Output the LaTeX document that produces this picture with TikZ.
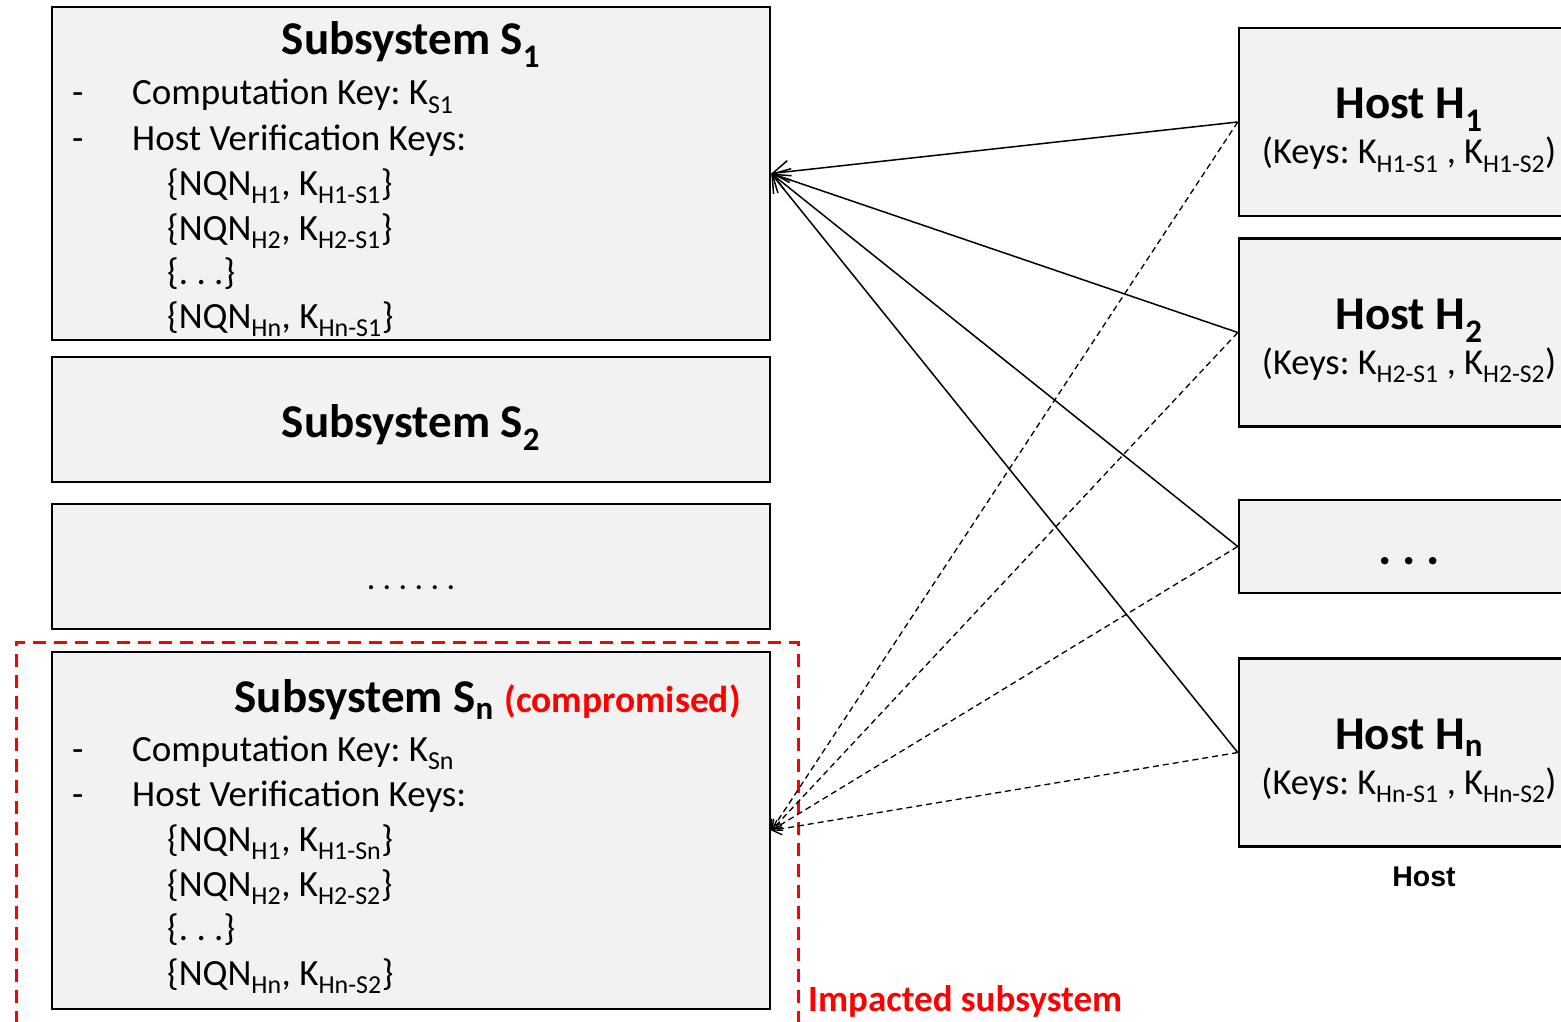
\documentclass[tikz,border=0pt]{standalone}
\usepackage{fontspec}
\setmainfont{Carlito}
\newfontfamily\hostlabelfont{Liberation Sans}
\usetikzlibrary{arrows.meta}
\definecolor{boxfill}{HTML}{F2F2F2}
\definecolor{alertred}{HTML}{FF0000}
\frenchspacing

\begin{document}
\begin{tikzpicture}[x=1pt, y=-1pt,
    subsys/.style={draw, fill=boxfill, line width=2.5pt, minimum width=718pt, inner sep=0pt},
    hostbox/.style={draw, fill=boxfill, line width=2.5pt, minimum width=340pt, minimum height=188pt, inner sep=0pt},
    heading/.style={anchor=base, inner sep=0pt, font=\fontsize{47}{52}\selectfont\bfseries},
    entry/.style={anchor=base west, inner sep=0pt, font=\fontsize{37}{42}\selectfont},
    keyline/.style={anchor=base, inner sep=0pt, font=\fontsize{36.5}{42}\selectfont},
    verify/.style={line width=1.5pt, -{Straight Barb[length=16pt,width=22pt,line width=1.5pt]}},
    leak/.style={line width=1.3pt, dash pattern=on 6pt off 4pt, -{Straight Barb[length=9pt,width=12pt]}}]

    \useasboundingbox (0,0) rectangle (1561,1022);
    \clip (0,0) rectangle (1561,1022);

    % --- SUBSYSTEMS ---
    % (1) Subsystem S1
    \node[subsys, minimum height=333pt] (s1) at (411,173.5) {};
    \node[heading] (s1title) at (411,55) {Subsystem S\textsubscript{1}};
    \node[entry] (s1dash1) at (72,105) {-};
    \node[entry] (s1comp) at (132,105) {Computation Key: K\textsubscript{S1}};
    \node[entry] (s1dash2) at (72,150) {-};
    \node[entry] (s1host) at (132,150) {Host Verification Keys:};
    \node[entry] (s1k1) at (167,195) {\{NQN\textsubscript{H1}, K\textsubscript{H1-S1}\}};
    \node[entry] (s1k2) at (167,240) {\{NQN\textsubscript{H2}, K\textsubscript{H2-S1}\}};
    \node[entry] (s1k3) at (167,284) {\{. . .\}};
    \node[entry] (s1kn) at (167,328) {\{NQN\textsubscript{Hn}, K\textsubscript{Hn-S1}\}};

    % (2) Subsystem S2
    \node[subsys, minimum height=125pt] (s2) at (411,419.5) {};
    \node[heading] (s2title) at (411,437) {Subsystem S\textsubscript{2}};

    % (3) more subsystems
    \node[subsys, minimum height=125pt] (smore) at (411,566.5) {};
    \node[anchor=base, inner sep=0pt, font=\fontsize{34}{38}\selectfont] (smoredots) at (411,589) {.\kern7.4pt.\kern7.4pt.\kern7.4pt.\kern7.4pt.\kern7.4pt.};

    % (4) Subsystem Sn, compromised
    \node[draw=alertred, line width=3pt, dash pattern=on 13pt off 8pt, minimum width=782pt, minimum height=398pt] (impact) at (407,841) {};
    \node[subsys, minimum height=357pt] (sn) at (411,830.5) {};
    \node[heading, anchor=base east] (sntitle) at (741,712) {Subsystem S\textsubscript{n} {\fontsize{37.5}{42}\selectfont\color{alertred}(compromised)}};
    \node[entry] (sndash1) at (72,761) {-};
    \node[entry] (sncomp) at (132,761) {Computation Key: K\textsubscript{Sn}};
    \node[entry] (sndash2) at (72,806) {-};
    \node[entry] (snhost) at (132,806) {Host Verification Keys:};
    \node[entry] (snk1) at (167,851) {\{NQN\textsubscript{H1}, K\textsubscript{H1-Sn}\}};
    \node[entry] (snk2) at (167,896) {\{NQN\textsubscript{H2}, K\textsubscript{H2-S2}\}};
    \node[entry] (snk3) at (167,940) {\{. . .\}};
    \node[entry] (snkn) at (167,985) {\{NQN\textsubscript{Hn}, K\textsubscript{Hn-S2}\}};
    \node[anchor=base west, inner sep=0pt, text=alertred, font=\fontsize{37}{42}\selectfont\bfseries] (impactlabel) at (808,1011) {Impacted subsystem};

    % --- HOSTS ---
    \node[hostbox] (h1) at (1409,122) {};
    \node[heading] (h1title) at (1409,119) {Host H\textsubscript{1}};
    \node[keyline] (h1keys) at (1409,164) {(Keys: K\textsubscript{H1-S1} , K\textsubscript{H1-S2})};

    \node[hostbox] (h2) at (1409,332.5) {};
    \node[heading] (h2title) at (1409,329) {Host H\textsubscript{2}};
    \node[keyline] (h2keys) at (1409,374) {(Keys: K\textsubscript{H2-S1} , K\textsubscript{H2-S2})};

    \node[hostbox, minimum height=93pt] (hmore) at (1409,546.5) {};
    \node[anchor=base, inner sep=0pt, font=\fontsize{50}{54}\selectfont\bfseries] (hmoredots) at (1409,564) {.\kern10.5pt.\kern10.5pt.};

    \node[hostbox] (hn) at (1409,752.5) {};
    \node[heading] (hntitle) at (1409,749) {Host H\textsubscript{n}};
    \node[keyline] (hnkeys) at (1409,794) {(Keys: K\textsubscript{Hn-S1} , K\textsubscript{Hn-S2})};

    \node[anchor=base, inner sep=0pt, font=\hostlabelfont\fontsize{28.5}{32}\selectfont\bfseries] (hostlabel) at (1424,886) {Host};

    % --- KEYS ---
    \draw[verify] (h1.west) -- (s1.east);
    \draw[verify] (h2.west) -- (s1.east);
    \draw[verify] (hmore.west) -- (s1.east);
    \draw[verify] (hn.west) -- (s1.east);

    \draw[leak] (h1.west) -- (sn.east);
    \draw[leak] (h2.west) -- (sn.east);
    \draw[leak] (hmore.west) -- (sn.east);
    \draw[leak] (hn.west) -- (sn.east);

\end{tikzpicture}
\end{document}
